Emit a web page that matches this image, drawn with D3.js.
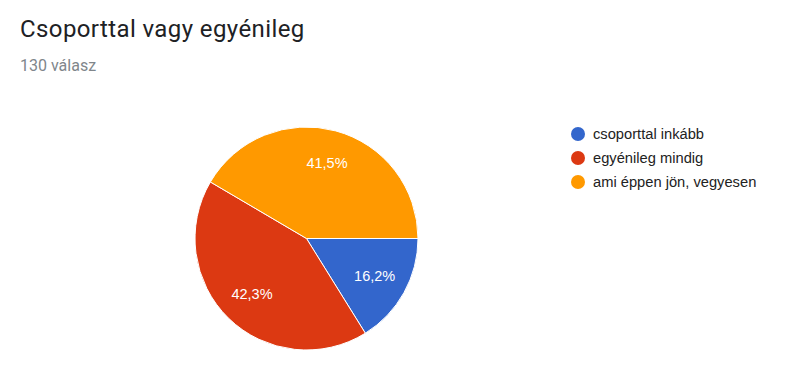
<!DOCTYPE html>
<html>
<head>
<meta charset="utf-8">
<script src="https://cdn.jsdelivr.net/npm/d3@7"></script>
<style>
    body { margin: 0; background: #fff; }
    svg { font-family: Roboto, Arial, sans-serif; }
</style>
</head>
<body>
<svg id="chart" width="804" height="372"></svg>
<script>
const title = "Csoporttal vagy egyénileg";
const subtitle = "130 válasz";
const categories = ["csoporttal inkább", "egyénileg mindig", "ami éppen jön, vegyesen"];
const counts = [21, 55, 54];
const colors = ["#3366cc", "#dc3912", "#ff9900"];

const svg = d3.select("#chart");

svg.append("text")
    .attr("x", 20)
    .attr("y", 37)
    .attr("font-size", 24)
    .attr("letter-spacing", 0.4)
    .attr("fill", "#202124")
    .text(title);

svg.append("text")
    .attr("x", 20)
    .attr("y", 71)
    .attr("font-size", 16)
    .attr("fill", "#80868b")
    .text(subtitle);

const cx = 306.5, cy = 238.5, radius = 111.5;
const total = d3.sum(counts);
const fmt = v => (v * 100 / total).toFixed(1).replace(".", ",") + "%";

const pie = d3.pie()
    .sort(null)
    .value(d => d)
    .startAngle(Math.PI / 2)
    .endAngle(Math.PI / 2 + 2 * Math.PI);

const arc = d3.arc().innerRadius(0).outerRadius(radius);
const labelArc = d3.arc().innerRadius(78).outerRadius(78);

const g = svg.append("g")
    .attr("transform", `translate(${cx},${cy})`);

const arcs = pie(counts);

g.selectAll("path").data(arcs)
    .enter()
    .append("path")
    .attr("d", arc)
    .attr("fill", (d, i) => colors[i])
    .attr("stroke", "#fff")
    .attr("stroke-width", 1);

g.selectAll("text.label").data(arcs)
    .enter()
    .append("text")
    .attr("class", "label")
    .attr("transform", d => `translate(${labelArc.centroid(d)})`)
    .attr("text-anchor", "middle")
    .attr("dy", "0.35em")
    .attr("font-family", "Arial, 'Liberation Sans', sans-serif")
    .attr("font-size", 14.5)
    .attr("fill", "#fff")
    .text(d => fmt(d.data));

const legend = svg.append("g")
    .attr("transform", "translate(578,134)");

const item = legend.selectAll("g").data(categories)
    .enter()
    .append("g")
    .attr("transform", (d, i) => `translate(0,${i * 24})`);

item.append("circle")
    .attr("r", 7)
    .attr("fill", (d, i) => colors[i]);

item.append("text")
    .attr("x", 15)
    .attr("dy", "0.35em")
    .attr("font-family", "Arial, 'Liberation Sans', sans-serif")
    .attr("font-size", 14.7)
    .attr("fill", "#222")
    .text(d => d);
</script>
</body>
</html>
